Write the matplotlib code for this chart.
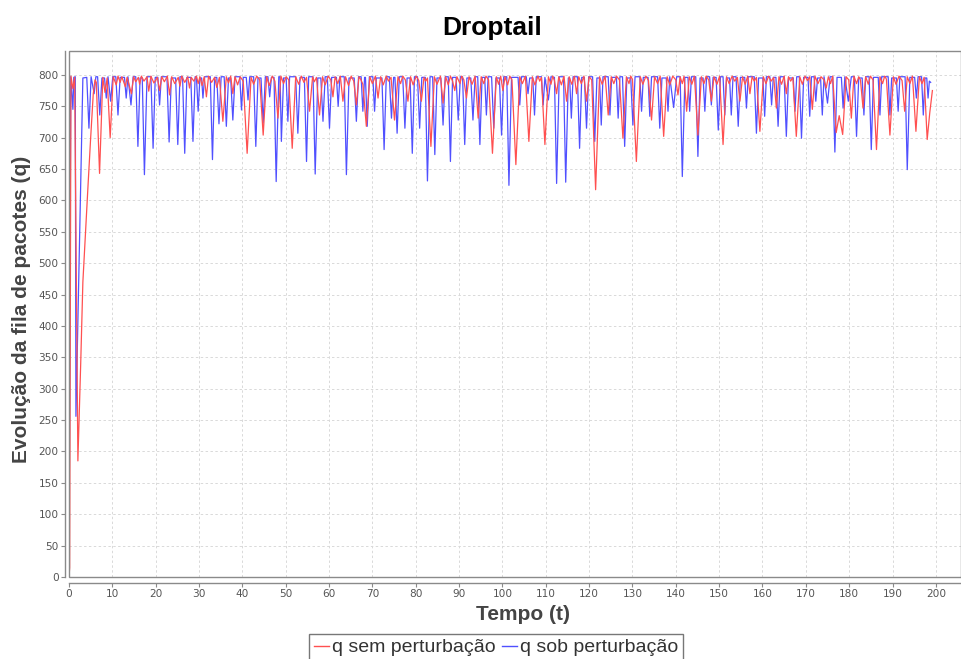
import matplotlib
matplotlib.use("Agg")
import matplotlib.pyplot as plt
from matplotlib.patches import Rectangle
from matplotlib.lines import Line2D

# ---- queue length, no disturbance (red) : vertices (time, packets) ----
t_sem = [0.0, 0.15, 0.45, 0.9, 1.3, 2.05, 2.7, 3.2, 3.85, 4.4, 5.0, 5.6, 6.0, 6.3, 7.05, 7.8, 8.3, 8.8, 9.5, 10.2,
         10.9, 11.3, 11.8, 12.2, 13.0, 13.4, 14.4, 14.9, 15.4, 16.0, 16.3, 16.7, 17.3, 18.0, 18.4, 18.9, 19.6,
         20.4, 20.9, 21.4, 22.0, 22.7, 23.2, 23.7, 24.4, 25.2, 25.6, 26.0, 26.7, 27.4, 27.8, 28.2, 28.8, 29.4, 29.8, 30.2,
         30.7, 31.2, 31.7, 32.2, 32.9, 33.6, 34.1, 34.7, 35.5, 36.3, 36.8, 37.3, 37.8, 38.3, 38.9, 39.5, 40.2, 41.1, 42.0,
         42.6, 43.3, 44.0, 44.8, 45.6, 46.2, 46.9, 47.5, 48.2, 48.9, 49.5, 50.1, 50.7, 51.5, 52.3, 53.0, 53.6, 54.2, 54.8, 55.5, 56.2,
         56.6, 57.1, 57.8, 58.5, 59.1, 59.8, 60.4, 60.9, 61.4, 62.0, 62.6, 63.2, 63.8, 64.5, 65.1, 65.7, 66.3, 66.9, 67.3, 67.8, 68.6, 69.4,
         70.0, 70.7, 71.3, 71.9, 72.5, 73.2, 73.7, 74.3, 75.1, 75.9, 76.5, 77.0, 77.6, 78.2, 78.8, 79.4, 80.1, 80.7, 81.3, 81.9, 82.3, 82.7, 83.5, 84.3,
         84.9, 85.7, 86.3, 86.9, 87.5, 88.0, 88.5, 89.0, 89.5, 90.2, 90.6, 91.1, 91.7, 92.3, 93.0, 93.7, 94.4, 95.1, 95.7, 96.2, 96.8, 97.7, 98.6,
         99.1, 99.6, 100.1, 100.6, 101.2, 101.7, 102.2, 103.1, 104.0, 104.6, 105.3, 106.1, 106.9, 107.5, 108.2, 108.6, 109.0, 109.8, 110.6,
         111.2, 111.6, 112.0, 112.5, 113.0, 113.6, 114.2, 114.8, 115.4, 116.0, 116.6, 117.1, 117.6, 118.2, 118.8, 119.4, 120.0, 120.6, 121.5, 122.4,
         123.0, 123.7, 124.4, 125.1, 125.7, 126.3, 127.0, 127.8, 128.6, 129.2, 129.6, 130.0, 130.9, 131.8, 132.4, 133.1, 133.7, 134.4, 135.1, 135.8, 136.4, 137.2, 138.0,
         138.6, 139.3, 140.0, 140.5, 141.0, 141.5, 141.9, 142.5, 143.1, 143.7, 144.3, 145.1, 145.9, 146.5, 147.0, 147.6, 148.2, 148.8, 149.5, 150.1, 150.9, 151.7,
         152.3, 153.0, 153.6, 154.2, 154.8, 155.4, 156.0, 156.6, 157.1, 157.6, 158.1, 158.6, 159.4, 160.2, 160.8, 161.4, 162.0, 162.6, 163.2, 163.8,
         164.4, 165.0, 165.5, 166.0, 166.5, 167.0, 167.8, 168.6,
         169.2, 169.8, 170.4, 170.9, 171.5, 172.1, 172.8, 173.5, 174.2, 174.7, 175.2, 175.7, 176.2, 177.0, 177.7, 178.5, 179.3, 179.9, 180.5, 181.1,
         181.7, 182.2, 182.6, 183.2, 183.8, 184.4, 184.9, 185.5, 186.3, 187.1, 187.7, 188.2, 188.6, 189.4, 190.2, 190.8, 191.5, 192.2, 192.8, 193.4,
         194.0, 194.6, 195.4, 196.2, 196.8, 197.3, 198.0, 198.6, 199.2]
q_sem = [0, 15, 798, 778, 796, 185, 340, 470, 555, 625, 700, 770, 792, 788, 643, 796, 772, 795, 700, 797,
         784, 798, 788, 797, 781, 796, 770, 797, 789, 796, 785, 798, 790, 797, 774, 798, 787,
         796, 775, 797, 789, 798, 768, 797, 786, 796, 782, 798, 788, 797, 779, 796, 790, 798, 786, 797,
         783, 797, 765, 798, 788, 796, 780, 796, 726, 797, 787, 798, 770, 797, 784, 797, 790, 675, 796,
         785, 798, 792, 704, 797, 783, 798, 790, 731, 798, 786, 797, 792, 683, 797, 785, 798, 788, 796, 742, 797,
         789, 796, 736, 797, 784, 798, 792, 765, 797, 786, 798, 758, 797, 783, 798, 790, 752, 797, 793, 785, 718, 797,
         786, 798, 763, 797, 784, 798, 790, 796, 728, 797, 786, 798, 792, 758, 797, 784, 798, 791, 758, 796, 790, 795, 686, 797,
         785, 798, 755, 797, 784, 798, 790, 775, 797, 786, 798, 792, 763, 797, 785, 798, 731, 797, 786, 798, 792, 675, 797,
         785, 798, 775, 797, 784, 798, 792, 657, 797, 786, 798, 694, 797, 784, 798, 790, 796, 689, 797,
         785, 798, 791, 770, 797, 784, 798, 758, 797, 785, 798, 770, 797, 786, 798, 758, 797, 792, 617, 797,
         785, 798, 736, 797, 786, 798, 792, 699, 797, 786, 798, 793, 662, 797, 785, 798, 791, 728, 797, 786, 798, 702, 797,
         784, 798, 792, 768, 797, 786, 798, 742, 797, 785, 798, 704, 797, 786, 798, 792, 758, 797, 785, 798, 689, 797,
         786, 798, 790, 796, 758, 797, 785, 798, 770, 797, 790, 796, 710, 797, 786, 798, 790, 796, 747, 797,
         785, 798, 770, 797, 790, 796, 702, 797,
         785, 798, 791, 797, 745, 798, 786, 797, 792, 779, 797, 786, 798, 708, 735, 705, 797, 792, 731, 798,
         786, 797, 792, 747, 797, 785, 798, 792, 681, 797, 786, 798, 793, 704, 797, 785, 798, 791, 742, 797,
         786, 798, 710, 797, 786, 796, 697, 740, 775]

# ---- queue length under disturbance (blue) : vertices (time, packets) ----
t_sob = [0.0, 0.4, 0.9, 1.1, 1.45, 1.6, 3.2,
         4.1, 4.6, 5.1, 5.8, 6.2, 6.6, 7.1, 7.6, 8.2, 8.6, 9.0, 9.6, 10.1, 10.8, 11.3, 11.8, 12.8, 13.2, 13.6, 14.3, 14.8,
         15.4, 15.9, 16.4, 16.9, 17.4, 18.0, 18.9, 19.4, 19.9, 20.5, 20.9, 21.3, 22.6, 23.1, 23.6,
         24.6, 25.1, 25.6, 26.2, 26.7, 27.2, 28.1, 28.6, 29.1, 29.4, 29.8, 30.2, 30.6, 30.9, 31.3,
         32.6, 33.1, 33.6, 34.1, 34.6, 35.1, 35.8, 36.3, 36.8, 37.3, 37.8, 38.3, 39.4, 39.8, 40.2,
         40.9, 41.3, 41.7, 42.6, 43.1, 43.6, 44.3, 44.8, 45.3, 45.9, 46.3, 46.7, 47.3, 47.8, 48.4,
         48.7, 49.0, 49.5, 50.1, 50.5, 50.9, 52.3, 52.8, 53.3, 54.3, 54.8, 55.3, 56.3, 56.8, 57.4,
         58.1, 58.6, 59.1, 59.6, 60.1, 60.6, 61.7, 62.1, 62.5, 63.5, 64.0, 64.6, 65.8, 66.3, 66.8,
         67.4, 67.8, 68.2, 68.4, 68.8, 69.3, 70.1, 70.5, 70.9, 72.2, 72.7, 73.2, 73.9, 74.4, 74.9,
         75.2, 75.7, 76.2, 77.0, 77.5, 78.0, 78.7, 79.2, 79.7, 80.4, 80.9, 81.4, 82.2, 82.7, 83.3,
         83.9, 84.4, 84.9, 85.8, 86.3, 86.8, 87.5, 88.0, 88.5, 89.3, 89.8, 90.3, 90.8, 91.3, 91.8,
         92.7, 93.2, 93.7, 94.3, 94.8, 95.3, 95.9, 96.3, 96.7, 97.5, 98.0, 98.5, 99.3, 99.8, 100.3,
         101.0, 101.5, 102.1, 103.6, 104.0, 104.4, 105.5, 105.9, 106.3, 107.0, 107.4, 107.8,
         109.0, 109.4, 109.8, 110.6, 111.2, 112.0, 112.5, 113.1, 114.1, 114.6, 115.2, 115.5, 115.9, 116.3,
         117.3, 117.8, 118.3, 118.9, 119.4, 119.9, 120.8, 121.3, 121.8, 122.4, 122.8, 123.2,
         124.4, 124.8, 125.2, 126.3, 126.7, 127.1, 127.7, 128.2, 128.7, 129.6, 130.1, 130.6,
         131.7, 132.1, 132.5, 133.6, 134.0, 134.4, 135.8, 136.3, 136.8, 137.8, 138.2, 138.6,
         139.5, 140.2, 141.0, 141.5, 142.1, 142.8, 143.2, 143.6, 144.6, 145.1, 145.6, 146.3, 146.7, 147.1,
         147.8, 148.2, 148.6, 149.3, 149.8, 150.3, 150.9, 151.3, 151.7, 152.4, 152.8, 153.2,
         153.9, 154.4, 154.9, 155.9, 156.3, 156.7, 158.1, 158.6, 159.1, 160.1, 160.5, 160.9,
         161.7, 162.1, 162.5, 163.1, 163.6, 164.1, 165.0, 165.5, 166.0, 167.1, 167.5, 167.9,
         168.5, 169.0, 169.5, 170.5, 170.9, 171.3, 171.9, 172.3, 172.7, 173.4, 173.8, 174.2,
         175.0, 175.6, 176.2, 176.7, 177.2, 178.2, 178.6, 179.0, 179.8, 180.5, 181.2, 181.7, 182.2, 183.0, 183.4, 183.8,
         184.6, 185.1, 185.6, 186.7, 187.1, 187.5, 189.0, 189.4, 189.8, 190.9, 191.3, 191.7,
         192.9, 193.4, 194.0, 195.1, 195.5, 195.9, 196.7, 197.1, 197.5, 197.9, 198.2, 198.5, 198.8]
q_sob = [0, 797, 745, 796, 797, 256, 795,
         796, 715, 797, 770, 797, 797, 736, 795, 795, 763, 797, 758, 797, 797, 736, 796, 796, 763, 797, 752, 797,
         797, 686, 795, 795, 641, 797, 797, 683, 796, 796, 752, 797, 797, 693, 795,
         795, 689, 797, 797, 675, 796, 796, 694, 797, 797, 742, 795, 795, 763, 797,
         797, 665, 796, 796, 722, 797, 797, 718, 795, 795, 728, 797, 797, 744, 796,
         796, 760, 797, 797, 686, 795, 795, 723, 797, 797, 765, 796, 796, 630, 797,
         797, 694, 795, 795, 726, 797, 797, 707, 796, 796, 662, 797, 797, 642, 795,
         795, 726, 797, 797, 715, 796, 796, 750, 797, 797, 641, 795, 795, 726, 797,
         797, 742, 796, 796, 718, 797, 797, 742, 795, 795, 681, 797, 797, 731, 796,
         796, 707, 797, 797, 715, 795, 795, 675, 797, 797, 715, 796, 796, 631, 797,
         797, 673, 795, 795, 720, 797, 797, 662, 796, 796, 728, 797, 797, 689, 795,
         795, 728, 797, 797, 689, 796, 796, 736, 797, 797, 715, 795, 795, 704, 797,
         797, 624, 796, 796, 752, 797, 797, 770, 795, 795, 736, 797,
         797, 752, 796, 760, 797, 796, 627, 797, 797, 629, 795, 795, 731, 797,
         797, 683, 796, 796, 715, 797, 797, 694, 795, 795, 720, 797,
         797, 736, 796, 796, 731, 797, 797, 686, 795, 795, 720, 797,
         797, 742, 796, 796, 734, 797, 797, 715, 795, 795, 742, 797,
         748, 797, 797, 638, 796, 796, 742, 797, 797, 670, 795, 795, 742, 797,
         797, 752, 796, 796, 712, 797, 797, 736, 795, 795, 736, 797,
         797, 718, 796, 796, 747, 797, 797, 707, 795, 795, 734, 797,
         797, 752, 796, 796, 718, 797, 797, 702, 795, 795, 742, 797,
         797, 699, 796, 796, 734, 797, 797, 758, 795, 795, 736, 797,
         755, 797, 797, 677, 796, 796, 747, 797, 758, 797, 797, 702, 795, 795, 736, 797,
         797, 681, 796, 796, 736, 797, 797, 736, 795, 795, 742, 797,
         797, 649, 796, 796, 763, 797, 797, 736, 795, 795, 763, 790, 788]

x_ticks = list(range(0, 201, 10))
y_ticks = list(range(0, 801, 50))

W, H = 962, 659
fig = plt.figure(figsize=(W / 100, H / 100), dpi=100)
fig.patch.set_facecolor("white")

left, right, top, bottom = 69, 961, 51, 577
ax = fig.add_axes([left / W, 1 - bottom / H, (right - left) / W, (bottom - top) / H])

ax.plot(t_sob, q_sob, color="#5050ff", lw=0.9, zorder=3)
ax.plot(t_sem, q_sem, color="#ff5050", lw=0.9, zorder=4)

ax.set_xlim(0, 205.8)
ax.set_ylim(0, 838)
ax.set_xticks(x_ticks)
ax.set_yticks(y_ticks)

grid_kw = dict(color="#d9d9d9", lw=0.7, dashes=(2.5, 2.5))
ax.grid(True, **grid_kw)
ax.set_axisbelow(True)

# plot outline plus separate offset axis lines
ax.add_patch(Rectangle((0, 0), 1, 1, transform=ax.transAxes, fill=False,
                       ec="#8a8a8a", lw=1.0, clip_on=False, zorder=5))
for s in ("top", "right"):
    ax.spines[s].set_visible(False)
ax.spines["left"].set_position(("outward", 3))
ax.spines["bottom"].set_position(("outward", 4))
for s in ("left", "bottom"):
    ax.spines[s].set_color("#8a8a8a")
    ax.spines[s].set_linewidth(1.0)

ax.tick_params(axis="both", colors="#8a8a8a", labelcolor="#555555",
               labelsize=7.6, length=3, width=0.8, pad=1.5)
for lab in ax.get_xticklabels() + ax.get_yticklabels():
    lab.set_family("DejaVu Sans")

fig.text(492 / W, 1 - 35 / H, "Droptail", ha="center", va="baseline",
         fontsize=19, fontweight="bold", family="Liberation Sans", color="black")
fig.text(523 / W, 1 - 614 / H, "Tempo (t)", ha="center", va="center",
         fontsize=15, fontweight="bold", family="Liberation Sans", color="#444444")
fig.text(22 / W, 1 - 309 / H, "Evolução da fila de pacotes (q)", ha="center", va="center",
         rotation=90, fontsize=15, fontweight="bold", family="Liberation Sans", color="#444444")

handles = [Line2D([], [], color="#ff5050", lw=1.0), Line2D([], [], color="#5050ff", lw=1.0)]
leg = fig.legend(handles, ["q sem perturbação", "q sob perturbação"], loc="upper center",
                 bbox_to_anchor=(496 / W, 1 - 634 / H), ncol=2, frameon=True, fancybox=False,
                 prop={"family": "Liberation Sans", "size": 14}, handlelength=0.8,
                 handletextpad=0.15, columnspacing=0.3, borderpad=0.25, borderaxespad=0)
leg.get_frame().set_edgecolor("#555555")
leg.get_frame().set_linewidth(1.0)
for txt in leg.get_texts():
    txt.set_color("#333333")

fig.savefig("out.png", dpi=100, facecolor="white")
